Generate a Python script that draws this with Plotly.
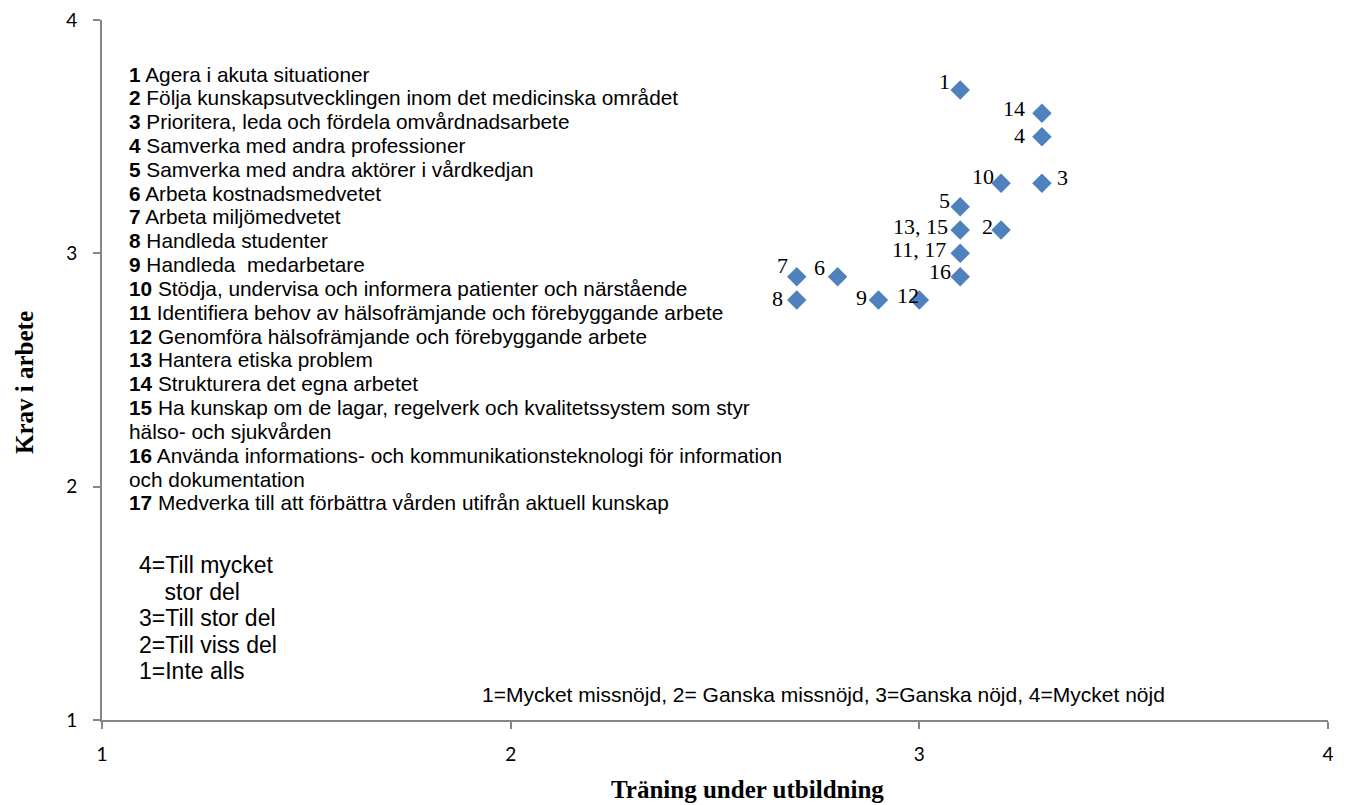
import plotly.graph_objects as go

# ---- data ----
item_labels = ["1", "14", "4", "10", "3", "5", "13, 15", "2", "11, 17", "16",
               "7", "6", "8", "9", "12"]
training = [3.1, 3.3, 3.3, 3.2, 3.3, 3.1, 3.1, 3.2, 3.1, 3.1, 2.7, 2.8, 2.7, 2.9, 3.0]
demand = [3.7, 3.6, 3.5, 3.3, 3.3, 3.2, 3.1, 3.1, 3.0, 2.9, 2.9, 2.9, 2.8, 2.8, 2.8]

x_ticks = [1, 2, 3, 4]
y_ticks = [1, 2, 3, 4]

legend_items = [
    ("1", "Agera i akuta situationer"),
    ("2", "Följa kunskapsutvecklingen inom det medicinska området"),
    ("3", "Prioritera, leda och fördela omvårdnadsarbete"),
    ("4", "Samverka med andra professioner"),
    ("5", "Samverka med andra aktörer i vårdkedjan"),
    ("6", "Arbeta kostnadsmedvetet"),
    ("7", "Arbeta miljömedvetet"),
    ("8", "Handleda studenter"),
    ("9", "Handleda&nbsp; medarbetare"),
    ("10", "Stödja, undervisa och informera patienter och närstående"),
    ("11", "Identifiera behov av hälsofrämjande och förebyggande arbete"),
    ("12", "Genomföra hälsofrämjande och förebyggande arbete"),
    ("13", "Hantera etiska problem"),
    ("14", "Strukturera det egna arbetet"),
    ("15", "Ha kunskap om de lagar, regelverk och kvalitetssystem som styr"),
    ("", "hälso- och sjukvården"),
    ("16", "Använda informations- och kommunikationsteknologi för information"),
    ("", "och dokumentation"),
    ("17", "Medverka till att förbättra vården utifrån aktuell kunskap"),
]

scale_y_lines = ["4=Till mycket", "&nbsp;&nbsp;&nbsp;&nbsp;stor del", "3=Till stor del",
                 "2=Till viss del", "1=Inte alls"]
scale_x_note = "1=Mycket missnöjd, 2= Ganska missnöjd, 3=Ganska nöjd, 4=Mycket nöjd"

x_title = "Träning under utbildning"
y_title = "Krav i arbete"

# ---- label placement (style) ----
label_anchor = ["right", "right", "right", "right", "left", "right", "right", "right",
                "right", "right", "right", "right", "right", "right", "right"]
label_xshift = [-8, -15, -15, -5, 13, -8, -10, -6, -12, -7, -7, -11, -12, -9, 2]
label_yshift = [9, 5, 1, 7, 6, 6, 4, 4, 4, 5, 11, 9, 2, 3, 5]

# page is drawn with an 8px body margin; work in reference-screen pixels
OFF = 8
W, H = 1351 - OFF, 805 - OFF
ML, MR, MT, MB = 102 - OFF, W - (1328 - OFF), 20 - OFF, H - (720 - OFF)
PW, PH = W - ML - MR, H - MT - MB


def px_x(p):
    return (p - OFF - ML) / PW


def px_y(p):
    return (H - MB - (p - OFF)) / PH


fig = go.Figure()
fig.add_trace(go.Scatter(
    x=training, y=demand, mode="markers",
    marker=dict(symbol="diamond", size=15, color="#4F81BD", line=dict(width=0)),
    hoverinfo="skip", showlegend=False,
))

annotations = []
for lab, xv, yv, anc, dx, dy in zip(item_labels, training, demand,
                                      label_anchor, label_xshift, label_yshift):
    annotations.append(dict(
        x=xv, y=yv, xref="x", yref="y", text=lab, showarrow=False,
        xanchor=anc, yanchor="middle", xshift=dx, yshift=dy,
        font=dict(family="Liberation Serif", size=22, color="black"),
    ))

# numbered legend list
for i, (num, txt) in enumerate(legend_items):
    t = f"<b>{num}</b> {txt}" if num else txt
    annotations.append(dict(
        x=px_x(127), y=px_y(74 + i * 23.83), xref="paper", yref="paper",
        text=t, showarrow=False, xanchor="left", yanchor="middle",
        font=dict(family="Liberation Sans", size=20.8, color="black"),
    ))

# scale legend for y
scale_ys = [565, 592, 618, 645, 671]
for t, yp in zip(scale_y_lines, scale_ys):
    annotations.append(dict(
        x=px_x(137), y=px_y(yp), xref="paper", yref="paper",
        text=t, showarrow=False, xanchor="left", yanchor="middle",
        font=dict(family="Liberation Sans", size=23, color="black"),
    ))

# scale note for x
annotations.append(dict(
    x=px_x(823), y=px_y(694), xref="paper", yref="paper",
    text=scale_x_note, showarrow=False, xanchor="center", yanchor="middle",
    font=dict(family="Liberation Sans", size=21, color="black"),
))

# axis titles
annotations.append(dict(
    x=px_x(747), y=px_y(789), xref="paper", yref="paper",
    text=f"<b>{x_title}</b>", showarrow=False, xanchor="center", yanchor="middle",
    font=dict(family="Liberation Serif", size=25, color="black"),
))
annotations.append(dict(
    x=px_x(24), y=px_y(383), xref="paper", yref="paper",
    text=f"<b>{y_title}</b>", showarrow=False, xanchor="center", yanchor="middle",
    textangle=-90,
    font=dict(family="Liberation Serif", size=25, color="black"),
))

axis_common = dict(
    showgrid=False, zeroline=False, showline=True, linecolor="#868686", linewidth=2,
    ticks="outside", ticklen=7, tickcolor="#868686", tickwidth=1.5,
    tickfont=dict(family="Lato", size=19, color="black"),
    ticklabeloverflow="allow",
)

fig.update_layout(
    width=W, height=H,
    margin=dict(l=ML, r=MR, t=MT, b=MB, autoexpand=False),
    paper_bgcolor="white", plot_bgcolor="white",
    xaxis=dict(range=[1, 4], tickvals=x_ticks, ticktext=[str(v) for v in x_ticks],
               ticklabelstandoff=9, **axis_common),
    yaxis=dict(range=[1, 4], tickvals=y_ticks, ticktext=[str(v) for v in y_ticks],
               ticklabelstandoff=12, **axis_common),
    annotations=annotations,
)

fig.write_html("out.html")
